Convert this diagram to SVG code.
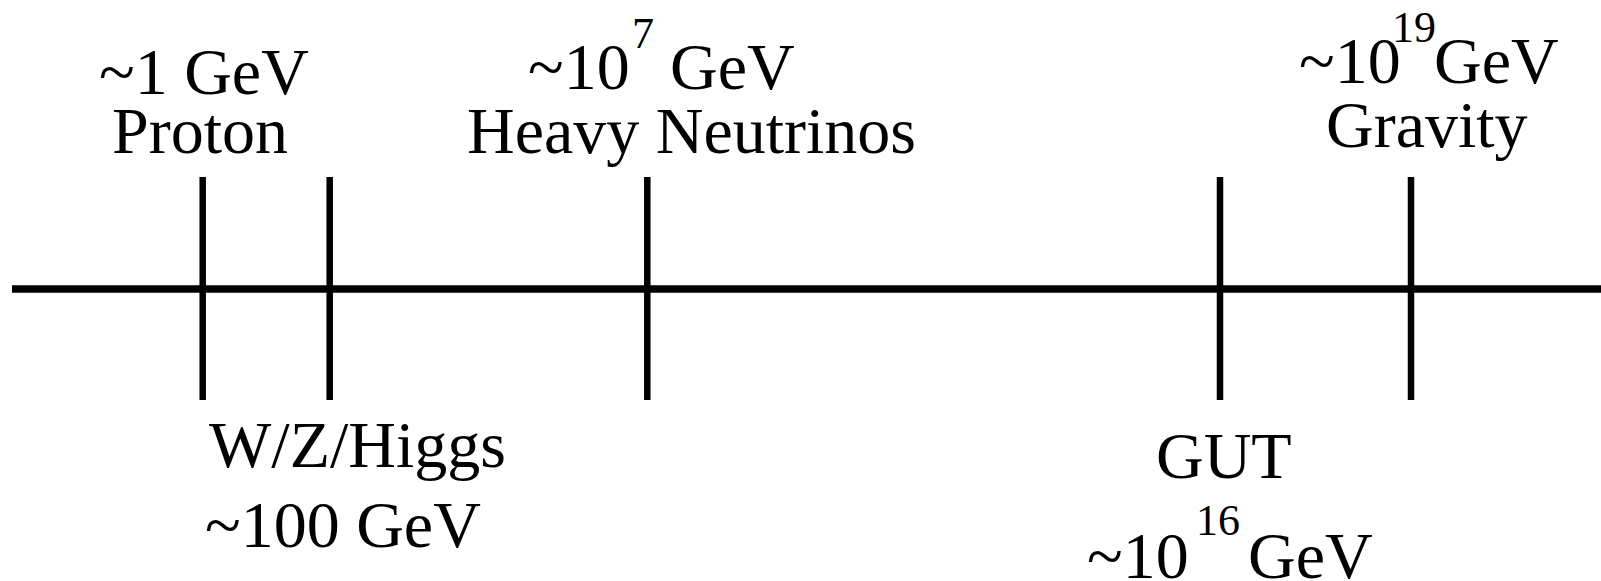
<svg xmlns="http://www.w3.org/2000/svg" width="1601" height="581" viewBox="0 0 1601 581">
<style>
text{font-family:"Liberation Serif","Times New Roman",serif;font-size:66px;fill:#000}
.sup{font-size:44px}
.axis{stroke:#000;stroke-width:7.5;fill:none}
.tick{stroke:#000;stroke-width:6.5;fill:none}
</style>
<rect width="1601" height="581" fill="#fff"/>
<g id="connectors">
<line class="axis" x1="12" y1="289" x2="1601" y2="289"/>
</g>
<g id="proton">
<line class="tick" x1="202.7" y1="177" x2="202.7" y2="400"/>
<text x="99" y="94">~1 GeV</text>
<text x="112" y="153">Proton</text>
</g>
<g id="wzhiggs">
<line class="tick" x1="329.7" y1="177" x2="329.7" y2="400"/>
<text x="209" y="467">W/Z/Higgs</text>
<text x="205" y="547">~100 GeV</text>
</g>
<g id="neutrinos">
<line class="tick" x1="647.3" y1="177" x2="647.3" y2="400"/>
<text y="89"><tspan x="528">~10</tspan><tspan class="sup" x="632" y="48">7</tspan><tspan x="670" y="89">GeV</tspan></text>
<text x="467" y="153">Heavy Neutrinos</text>
</g>
<g id="gut">
<line class="tick" x1="1220" y1="177" x2="1220" y2="400"/>
<text x="1156" y="478">GUT</text>
<text y="578"><tspan x="1087">~10</tspan><tspan class="sup" x="1196" y="535">16</tspan><tspan x="1248" y="578">GeV</tspan></text>
</g>
<g id="gravity">
<line class="tick" x1="1411" y1="177" x2="1411" y2="400"/>
<text y="83"><tspan x="1299">~10</tspan><tspan class="sup" x="1392" y="42">19</tspan><tspan x="1434" y="83">GeV</tspan></text>
<text x="1326" y="147">Gravity</text>
</g>
</svg>
